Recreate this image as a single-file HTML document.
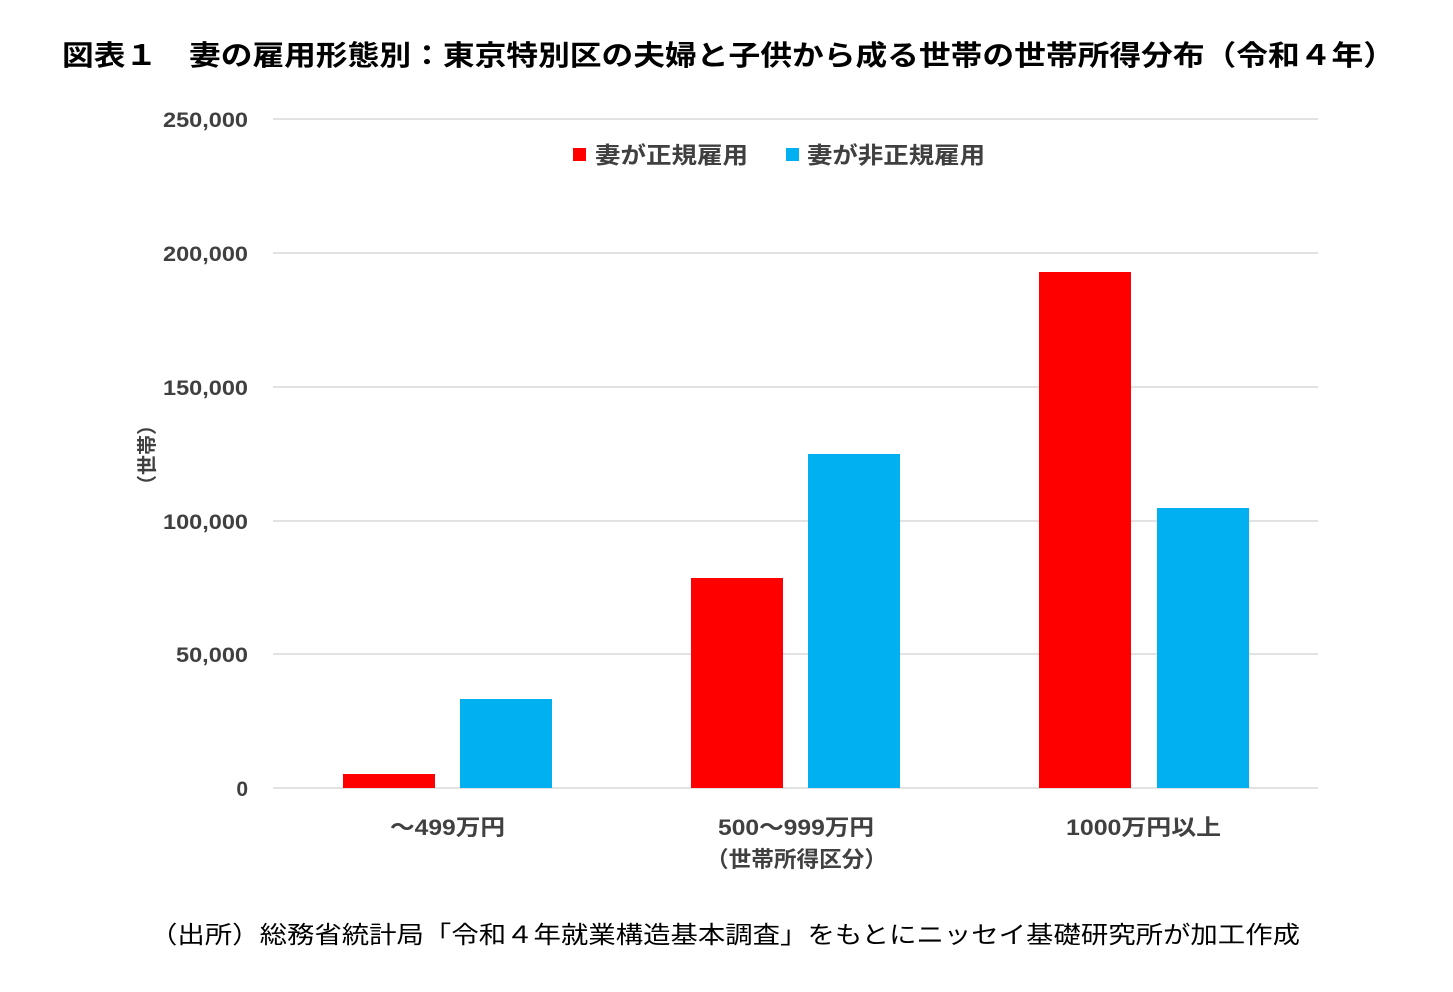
<!DOCTYPE html>
<html><head><meta charset="utf-8"><style>
body{margin:0;background:#fff;}
svg text{font-family:"Liberation Sans","Noto Sans CJK JP",sans-serif;}
</style></head><body>
<svg width="1453" height="987" viewBox="0 0 1453 987" xmlns="http://www.w3.org/2000/svg">
<rect width="1453" height="987" fill="#fff"/>
<text x="62" y="65" font-size="28" font-weight="bold" fill="#000" textLength="1333" lengthAdjust="spacingAndGlyphs">図表１　妻の雇用形態別：東京特別区の夫婦と子供から成る世帯の世帯所得分布（令和４年）</text>
<g stroke="#d9d9d9" stroke-width="1.5">
<line x1="273" y1="119" x2="1318" y2="119"/>
<line x1="273" y1="253" x2="1318" y2="253"/>
<line x1="273" y1="387" x2="1318" y2="387"/>
<line x1="273" y1="521" x2="1318" y2="521"/>
<line x1="273" y1="654" x2="1318" y2="654"/>
<line x1="273" y1="788" x2="1318" y2="788"/>
</g>
<g font-size="21" font-weight="bold" fill="#404040" text-anchor="end">
<text x="248" y="127" textLength="85" lengthAdjust="spacingAndGlyphs">250,000</text>
<text x="248" y="261" textLength="85" lengthAdjust="spacingAndGlyphs">200,000</text>
<text x="248" y="395" textLength="85" lengthAdjust="spacingAndGlyphs">150,000</text>
<text x="248" y="529" textLength="85" lengthAdjust="spacingAndGlyphs">100,000</text>
<text x="248" y="662" textLength="72" lengthAdjust="spacingAndGlyphs">50,000</text>
<text x="248" y="796">0</text>
</g>
<text transform="translate(154,455) rotate(-90)" font-size="20" font-weight="bold" fill="#404040" text-anchor="middle">（世帯）</text>
<rect x="343" y="774" width="92" height="14" fill="#ff0000"/>
<rect x="460" y="699" width="92" height="89" fill="#00b0f0"/>
<rect x="691" y="578" width="92" height="210" fill="#ff0000"/>
<rect x="808" y="454" width="92" height="334" fill="#00b0f0"/>
<rect x="1039" y="272" width="92" height="516" fill="#ff0000"/>
<rect x="1157" y="508" width="92" height="280" fill="#00b0f0"/>
<rect x="573" y="148" width="13" height="13" fill="#ff0000"/>
<text x="595" y="163" font-size="23" font-weight="bold" fill="#404040" textLength="153" lengthAdjust="spacingAndGlyphs">妻が正規雇用</text>
<rect x="786" y="148" width="13" height="13" fill="#00b0f0"/>
<text x="807" y="163" font-size="23" font-weight="bold" fill="#404040" textLength="178" lengthAdjust="spacingAndGlyphs">妻が非正規雇用</text>
<g font-size="22" font-weight="bold" fill="#404040">
<text x="390" y="835" textLength="115" lengthAdjust="spacingAndGlyphs">～499万円</text>
<text x="718" y="835" textLength="156" lengthAdjust="spacingAndGlyphs">500～999万円</text>
<text x="1066" y="835" textLength="155" lengthAdjust="spacingAndGlyphs">1000万円以上</text>
<text x="706" y="867" textLength="181" lengthAdjust="spacingAndGlyphs">（世帯所得区分）</text>
</g>
<text x="150" y="943" font-size="24" fill="#000" textLength="1150" lengthAdjust="spacingAndGlyphs">（出所）総務省統計局「令和４年就業構造基本調査」をもとにニッセイ基礎研究所が加工作成</text>
</svg>
</body></html>
